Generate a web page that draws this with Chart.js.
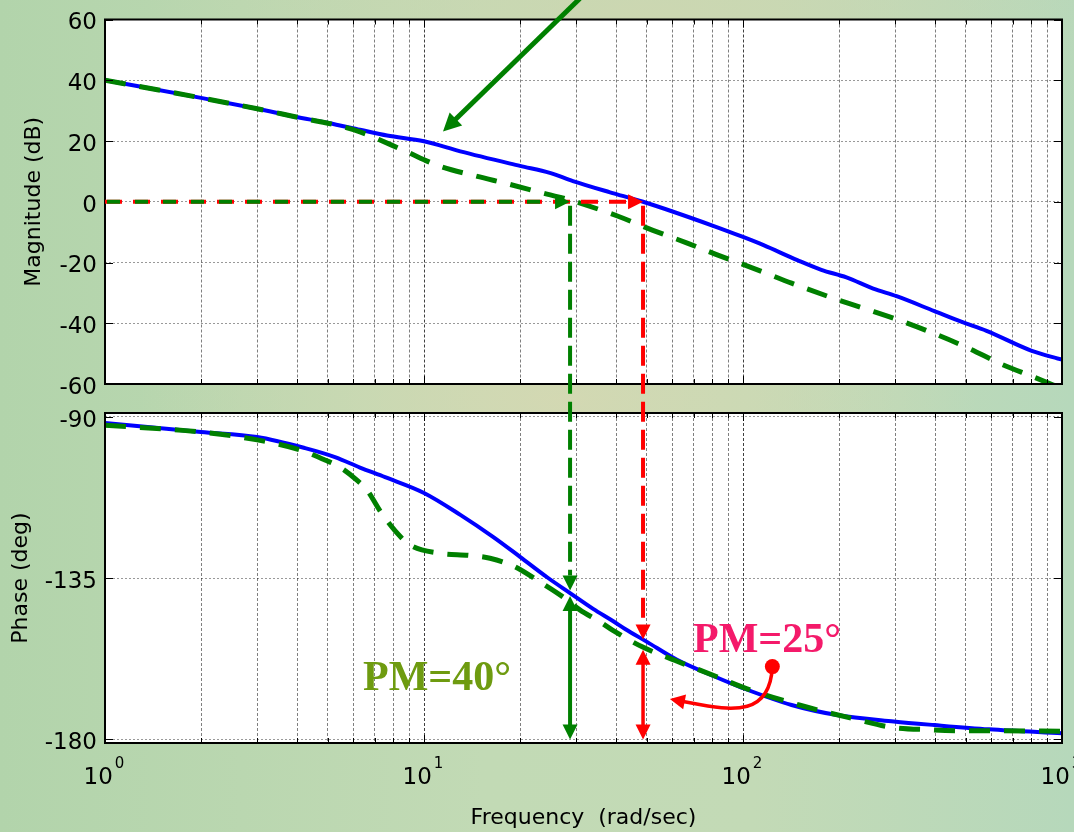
<!DOCTYPE html>
<html>
<head>
<meta charset="utf-8">
<script src="https://cdn.jsdelivr.net/npm/chart.js@4/dist/chart.umd.min.js"></script>
<style>
  html, body { margin: 0; padding: 0; }
  body {
    width: 1074px; height: 832px; overflow: hidden; position: relative;
    background:
      radial-gradient(ellipse 420px 160px at 52% 48%, rgba(214,216,178,0.85) 0%, rgba(214,216,178,0) 100%),
      radial-gradient(ellipse 500px 200px at 60% 2%, rgba(206,214,176,0.8) 0%, rgba(206,214,176,0) 100%),
      linear-gradient(90deg, #b2d4ab 0%, #c2dab5 45%, #c3dab6 70%, #b6d8bb 100%);
  }
  canvas { position: absolute; left: 0; top: 0; }
</style>
</head>
<body>
<canvas id="mag" width="1074" height="832"></canvas>
<canvas id="phase" width="1074" height="832"></canvas>
<script>
// Magnitude (dB) of the two open-loop responses, frequency in rad/sec
const magFreqBlue = [1, 2, 3, 3.94, 4.97, 6.3, 7.66, 10, 13, 20, 24.8, 29.3, 38.3, 48.6, 81, 100, 116, 148, 176, 211, 256, 303, 398, 483, 580, 800, 1000];
const magBlue = [40, 34.2, 30.6, 28, 26, 23.7, 21.8, 19.9, 16.6, 11.8, 9.5, 6.8, 3.1, 0, -8, -11.6, -14.3, -19.2, -22.4, -24.9, -28.6, -31.1, -36, -39.5, -42.5, -49, -52];
const magFreqGreen = [1, 2, 3, 3.94, 5.57, 6.3, 8.6, 11.2, 14.5, 18.6, 24.3, 28, 31.4, 40.4, 52.2, 67.2, 83, 111, 142, 184, 236, 303, 391, 504, 644, 815, 1000];
const magGreen = [40, 34.2, 30.6, 28, 24.7, 23, 17, 11.7, 8.5, 5.7, 2.5, 0.9, -0.7, -4.7, -9.4, -13.7, -17.5, -22.4, -26.8, -31.1, -34.9, -38.7, -43.1, -48, -53.4, -57.7, -61.5];

// Phase (deg)
const phaseFreqBlue = [1, 2, 3, 4.24, 5.26, 6.3, 7.55, 10, 13, 16.5, 20, 24.5, 28.7, 33.9, 39.1, 42.7, 50, 62.1, 81.1, 99.3, 142, 197, 297, 398, 590, 1000];
const phaseBlue = [-91.8, -94.3, -95.7, -98.8, -101.3, -104.2, -106.9, -111.3, -117.4, -123.6, -129.1, -135, -139.2, -143.6, -147, -149.2, -152.8, -157.8, -162.4, -165.6, -170.4, -173.2, -175, -176, -177.2, -178.3];
const phaseFreqGreen = [1, 2, 3, 4.09, 4.89, 5.45, 6.16, 6.63, 7.28, 8.11, 9.04, 11.2, 13.9, 16.1, 19, 23.1, 27.3, 30.8, 35.6, 39.1, 48.3, 62.1, 83.7, 103, 150, 226, 291, 383, 500, 649, 1000];
const phaseGreen = [-92.4, -94.3, -96.5, -99.3, -102.1, -104.1, -107.7, -110.5, -116.3, -121.8, -125.8, -128.1, -128.7, -129.5, -131.6, -136.1, -140.3, -143.9, -147.2, -149.6, -154.2, -158.2, -162.7, -165.9, -170.4, -174.4, -176.6, -177.3, -177.6, -177.6, -177.7];

// Axis ticks
const magTicks = [-60, -40, -20, 0, 20, 40, 60];
const phaseTicks = [-180, -135, -90];
const decadeExponents = [0, 1, 2, 3];
const decadeSteps = [1, 2, 3, 4, 5, 6, 7, 8, 9];

// Gain crossover frequencies and phase margins
const wcGreen = 28.7;
const wcBlue = 48.6;
const pmGreen = 40;
const pmBlue = 25;

const BLUE = '#0000ff', GREEN = '#008000', RED = '#ff0000';
const SANS = "'DejaVu Sans', sans-serif";

const xGridValues = [];
decadeExponents.slice(0, 3).forEach(e => decadeSteps.forEach(m => xGridValues.push(m * Math.pow(10, e))));
xGridValues.push(Math.pow(10, decadeExponents[decadeExponents.length - 1]));

const pts = (xs, ys) => xs.map((x, i) => ({ x, y: ys[i] }));
const isDecade = v => Math.abs(Math.log10(v) - Math.round(Math.log10(v))) < 1e-9;

function logLerp(fs, vs, f) {
  const lf = Math.log10(f);
  for (let i = 0; i < fs.length - 1; i++) {
    if (f >= fs[i] && f <= fs[i + 1]) {
      const a = Math.log10(fs[i]), b = Math.log10(fs[i + 1]);
      return vs[i] + (lf - a) / (b - a) * (vs[i + 1] - vs[i]);
    }
  }
  return vs[vs.length - 1];
}

function arrowHead(ctx, x, y, ang, len, half, color) {
  const c = Math.cos(ang), s = Math.sin(ang);
  const bx = x - len * c, by = y - len * s;
  ctx.save();
  ctx.beginPath();
  ctx.moveTo(x, y);
  ctx.lineTo(bx - half * s, by + half * c);
  ctx.lineTo(bx + half * s, by - half * c);
  ctx.closePath();
  ctx.fillStyle = color;
  ctx.fill();
  ctx.restore();
}

function segment(ctx, x1, y1, x2, y2, color, width, dash, offset) {
  ctx.save();
  ctx.beginPath();
  ctx.moveTo(x1, y1);
  ctx.lineTo(x2, y2);
  ctx.strokeStyle = color;
  ctx.lineWidth = width;
  ctx.setLineDash(dash || []);
  ctx.lineDashOffset = offset || 0;
  ctx.stroke();
  ctx.restore();
}

// White plot box, black frame and inward tick marks on all four sides
const panelFrame = {
  id: 'panelFrame',
  beforeDraw(chart) {
    const { ctx, chartArea: a } = chart;
    ctx.save();
    ctx.fillStyle = '#ffffff';
    ctx.fillRect(a.left, a.top, a.right - a.left, a.bottom - a.top);
    ctx.restore();
  },
  afterDatasetsDraw(chart) {
    const { ctx, chartArea: a, scales } = chart;
    ctx.save();
    ctx.strokeStyle = '#000';
    ctx.lineWidth = 1;
    ctx.beginPath();
    scales.x.ticks.forEach(t => {
      const x = Math.round(scales.x.getPixelForValue(t.value)) + 0.5;
      const len = isDecade(t.value) ? 8 : 5;
      ctx.moveTo(x, a.top); ctx.lineTo(x, a.top + len);
      ctx.moveTo(x, a.bottom); ctx.lineTo(x, a.bottom - len);
    });
    scales.y.ticks.forEach(t => {
      const y = Math.round(scales.y.getPixelForValue(t.value)) + 0.5;
      ctx.moveTo(a.left, y); ctx.lineTo(a.left + 8, y);
      ctx.moveTo(a.right, y); ctx.lineTo(a.right - 8, y);
    });
    ctx.stroke();
    ctx.lineWidth = 2;
    ctx.strokeRect(a.left, a.top, a.right - a.left, a.bottom - a.top);
    ctx.restore();
  }
};

function xScale(withTitle) {
  return {
    type: 'logarithmic',
    min: 1,
    max: 1000,
    afterBuildTicks: s => { s.ticks = xGridValues.map(v => ({ value: v })); },
    afterFit: s => { s.height = withTitle ? 88 : 0; },
    ticks: { display: false },
    grid: {
      drawTicks: false,
      lineWidth: 1,
      color: c => (c.tick && isDecade(c.tick.value)) ? 'rgba(0,0,0,0.75)' : 'rgba(0,0,0,0.5)'
    },
    border: { display: false, dash: [3, 2] },
    title: {
      display: withTitle,
      text: 'Frequency  (rad/sec)',
      color: '#000',
      font: { family: SANS, size: 22 },
      padding: { top: 0, bottom: 0 }
    }
  };
}

function yScale(min, max, ticks, title, width) {
  return {
    type: 'linear',
    min, max,
    afterBuildTicks: s => { s.ticks = ticks.map(v => ({ value: v })); },
    afterFit: s => { s.width = width; },
    ticks: {
      color: '#000',
      padding: 8,
      labelOffset: 4,
      font: { family: SANS, size: 23, lineHeight: 1 },
      callback: v => String(v)
    },
    grid: { drawTicks: false, lineWidth: 1, color: 'rgba(0,0,0,0.4)' },
    border: { display: false, dash: [2, 2] },
    title: {
      display: true,
      text: title,
      color: '#000',
      font: { family: SANS, size: 22 },
      padding: { top: 4, bottom: 4 }
    }
  };
}

function curve(data, color, width, dash) {
  return {
    data,
    borderColor: color,
    borderWidth: width,
    borderDash: dash,
    pointRadius: 0,
    fill: false,
    cubicInterpolationMode: 'monotone'
  };
}

const common = {
  responsive: false,
  animation: false,
  devicePixelRatio: 1,
  events: [],
  plugins: { legend: { display: false }, tooltip: { enabled: false } }
};

magChart = new Chart(document.getElementById('mag'), {
  type: 'line',
  data: {
    datasets: [
      curve(pts(magFreqGreen, magGreen), GREEN, 5, [21, 14]),
      curve(pts(magFreqBlue, magBlue), BLUE, 4, [])
    ]
  },
  options: Object.assign({}, common, {
    layout: { autoPadding: false, padding: { left: 17, top: 14, right: 12, bottom: 448 } },
    scales: {
      x: xScale(false),
      y: yScale(-60, 60, magTicks, 'Magnitude (dB)', 88)
    }
  }),
  plugins: [panelFrame]
});

// Decade labels, crossover markers and phase-margin annotations
const annotations = {
  id: 'annotations',
  afterDraw(chart) {
    const ctx = chart.ctx;
    const a = chart.chartArea;
    const fx = v => chart.scales.x.getPixelForValue(v);
    const dbY = v => magChart.scales.y.getPixelForValue(v);
    const degY = v => chart.scales.y.getPixelForValue(v);

    // 10^n labels
    ctx.save();
    ctx.fillStyle = '#000';
    ctx.textAlign = 'left';
    ctx.textBaseline = 'alphabetic';
    decadeExponents.forEach(e => {
      const x = fx(Math.pow(10, e));
      ctx.font = '23px ' + SANS;
      const w1 = ctx.measureText('10').width;
      ctx.font = '15px ' + SANS;
      const w2 = ctx.measureText(String(e)).width;
      const start = x - (w1 + 2 + w2) / 2 - 1;
      ctx.font = '23px ' + SANS;
      ctx.fillText('10', start, a.bottom + 41);
      ctx.font = '15px ' + SANS;
      ctx.fillText(String(e), start + w1 + 2, a.bottom + 25);
    });
    ctx.restore();

    const HL = 15, HW = 7.5;
    const x0 = fx(1), y0 = dbY(0);
    const xg = fx(wcGreen), xb = fx(wcBlue);

    // along 0 dB to each crossover
    segment(ctx, x0, y0, xb - HL, y0, RED, 4, [17, 11]);
    arrowHead(ctx, xb, y0, 0, HL, HW, RED);
    segment(ctx, x0, y0, xg - HL, y0, GREEN, 4, [13, 15], -2);
    arrowHead(ctx, xg, y0, 0, HL, HW, GREEN);

    // down to the phase curve
    const tipG = degY(logLerp(phaseFreqBlue, phaseBlue, wcGreen) + 0.7);
    const tipB = degY(logLerp(phaseFreqBlue, phaseBlue, wcBlue));
    segment(ctx, xg, y0 + 4, xg, tipG - HL, GREEN, 4, [20, 8]);
    arrowHead(ctx, xg, tipG, Math.PI / 2, HL, HW, GREEN);
    segment(ctx, xb, y0 + 4, xb, tipB - HL, RED, 4, [20, 8]);
    arrowHead(ctx, xb, tipB, Math.PI / 2, HL, HW, RED);

    // phase margins measured from -180 deg
    const base = degY(-180);
    const topG = degY(-180 + pmGreen), topB = degY(-180 + pmBlue);
    segment(ctx, xg, topG + HL - 2, xg, base - HL + 2, GREEN, 4);
    arrowHead(ctx, xg, topG, -Math.PI / 2, HL, HW, GREEN);
    arrowHead(ctx, xg, base, Math.PI / 2, HL, HW, GREEN);
    segment(ctx, xb, topB + HL - 2, xb, base - HL + 2, RED, 3.5);
    arrowHead(ctx, xb, topB, -Math.PI / 2, HL, HW, RED);
    arrowHead(ctx, xb, base, Math.PI / 2, HL, HW, RED);

    // PM labels
    ctx.save();
    ctx.font = "bold 42px 'Liberation Serif', 'Times New Roman', serif";
    ctx.textAlign = 'left';
    ctx.textBaseline = 'alphabetic';
    ctx.fillStyle = '#6e9b10';
    ctx.fillText('PM=' + pmGreen + '°', fx(6.44), degY(-166.2));
    ctx.fillStyle = '#f41a6a';
    ctx.fillText('PM=' + pmBlue + '°', fx(69.7), degY(-155.6));
    ctx.restore();

    // curved pointer from the PM=25° label
    const p0 = [fx(123.6), degY(-159.7)];
    const tip = [fx(59), degY(-168.7)];
    const end = [fx(68.2), degY(-169.8)];
    const ang = Math.atan2(tip[1] - end[1], tip[0] - end[0]);
    ctx.save();
    ctx.beginPath();
    ctx.moveTo(p0[0], p0[1]);
    ctx.bezierCurveTo(fx(121.5), degY(-173.2), fx(94.4), degY(-172.3), end[0], end[1]);
    ctx.lineTo(tip[0] - 12 * Math.cos(ang), tip[1] - 12 * Math.sin(ang));
    ctx.strokeStyle = RED;
    ctx.lineWidth = 3.5;
    ctx.stroke();
    ctx.beginPath();
    ctx.arc(p0[0], p0[1], 7.5, 0, Math.PI * 2);
    ctx.fillStyle = RED;
    ctx.fill();
    ctx.restore();
    arrowHead(ctx, tip[0], tip[1], ang, HL, HW, RED);

    // pointer onto the magnitude curve
    const s0 = [fx(30.8), dbY(66.9)];
    const s1 = [fx(11.47), dbY(23.1)];
    const ga = Math.atan2(s1[1] - s0[1], s1[0] - s0[0]);
    segment(ctx, s0[0], s0[1], s1[0] - 14 * Math.cos(ga), s1[1] - 14 * Math.sin(ga), GREEN, 5);
    arrowHead(ctx, s1[0], s1[1], ga, 18, 9, GREEN);
  }
};

new Chart(document.getElementById('phase'), {
  type: 'line',
  data: {
    datasets: [
      curve(pts(phaseFreqGreen, phaseGreen), GREEN, 5, [21, 14]),
      curve(pts(phaseFreqBlue, phaseBlue), BLUE, 4, [])
    ]
  },
  options: Object.assign({}, common, {
    layout: { autoPadding: false, padding: { left: 4, top: 413, right: 12, bottom: 1 } },
    scales: {
      x: xScale(true),
      y: yScale(-181, -89, phaseTicks, 'Phase (deg)', 101)
    }
  }),
  plugins: [panelFrame, annotations]
});
</script>
</body>
</html>
